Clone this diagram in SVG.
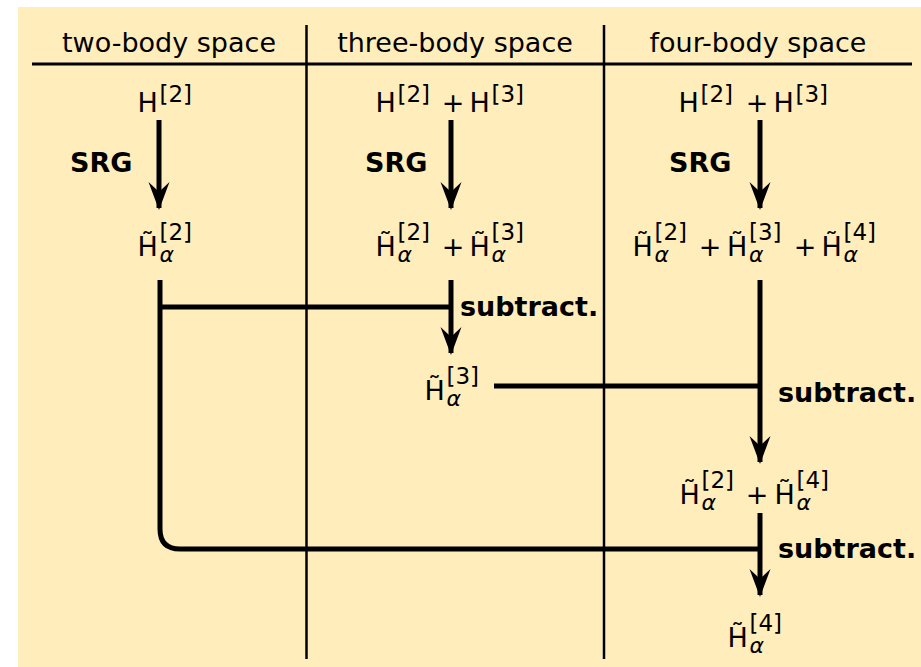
<svg xmlns="http://www.w3.org/2000/svg" width="921" height="667" viewBox="0 0 921 667">
<style>
.hd{font-family:"DejaVu Sans",sans-serif;font-size:27px;fill:#000;text-anchor:middle}
.m{font-family:"DejaVu Sans",sans-serif;font-size:27px;fill:#000}
.s{font-size:23px;font-style:normal}
.a{font-size:22px;font-style:italic}
.p{font-family:"DejaVu Sans",sans-serif;font-size:27px;fill:#000;text-anchor:middle}
.lb{font-family:"DejaVu Sans",sans-serif;font-size:27px;font-weight:bold;fill:#000}
.thin{stroke:#000;stroke-width:2.5;fill:none}
.thick{stroke:#000;stroke-width:5;fill:none}
</style>
<defs>
<marker id="ah" markerUnits="userSpaceOnUse" markerWidth="32" markerHeight="24" viewBox="-30 -12 32 24" refX="0" refY="0" orient="auto">
<path d="M2,0 L-26,-10.5 Q-20,-4 -16,0 Q-20,4 -26,10.5 Z" fill="#000"/>
</marker>
</defs>
<rect x="18" y="7" width="903" height="660" fill="#FFEDBB"/>
<g id="grid">
<line class="thick" x1="32" y1="64" x2="912" y2="64" style="stroke-width:3"/>
<line class="thin" x1="306.5" y1="25" x2="306.5" y2="659"/>
<line class="thin" x1="604" y1="25" x2="604" y2="659"/>
<text class="hd" x="169" y="52">two-body space</text>
<text class="hd" x="455" y="52">three-body space</text>
<text class="hd" x="758" y="52">four-body space</text>
</g>
<g id="connectors">
<line class="thick" x1="159" y1="120" x2="159" y2="208" marker-end="url(#ah)"/>
<line class="thick" x1="451" y1="120" x2="451" y2="208" marker-end="url(#ah)"/>
<line class="thick" x1="760" y1="120" x2="760" y2="208" marker-end="url(#ah)"/>
<path class="thick" d="M160,280 L160,529 Q160,549 180,549 L760,549"/>
<line class="thick" x1="160" y1="307" x2="451" y2="307"/>
<line class="thick" x1="451" y1="280" x2="451" y2="353" marker-end="url(#ah)"/>
<line class="thick" x1="494" y1="386" x2="760" y2="386"/>
<line class="thick" x1="760" y1="280" x2="760" y2="462" marker-end="url(#ah)"/>
<line class="thick" x1="760" y1="513" x2="760" y2="595" marker-end="url(#ah)"/>
<text class="lb" x="70" y="172">SRG</text>
<text class="lb" x="365" y="172">SRG</text>
<text class="lb" x="669" y="172">SRG</text>
<text class="lb" x="460" y="316">subtract.</text>
<text class="lb" x="778" y="402">subtract.</text>
<text class="lb" x="778" y="558">subtract.</text>
</g>
<g id="n-h2">
<text class="m" x="137.4" y="112">H<tspan class="s" x="159.5" y="102">[2]</tspan></text>
</g>
<g id="n-h2h3-3">
<text class="m" x="375.4" y="112">H<tspan class="s" x="397.5" y="102">[2]</tspan></text>
<text class="p" x="453" y="112">+</text>
<text class="m" x="469.4" y="112">H<tspan class="s" x="491.5" y="102">[3]</tspan></text>
</g>
<g id="n-h2h3-4">
<text class="m" x="678.4" y="112">H<tspan class="s" x="700.5" y="102">[2]</tspan></text>
<text class="p" x="757" y="112">+</text>
<text class="m" x="773.4" y="112">H<tspan class="s" x="795.5" y="102">[3]</tspan></text>
</g>
<g id="n-ht2">
<text class="m" x="137.4" y="256">H&#x303;<tspan class="s" x="159.5" y="240">[2]</tspan><tspan class="a" x="159.5" y="262">α</tspan></text>
</g>
<g id="n-ht2ht3">
<text class="m" x="375.4" y="256">H&#x303;<tspan class="s" x="397.5" y="240">[2]</tspan><tspan class="a" x="397.5" y="262">α</tspan></text>
<text class="p" x="453" y="256">+</text>
<text class="m" x="469.4" y="256">H&#x303;<tspan class="s" x="491.5" y="240">[3]</tspan><tspan class="a" x="491.5" y="262">α</tspan></text>
</g>
<g id="n-ht2ht3ht4">
<text class="m" x="632.4" y="256">H&#x303;<tspan class="s" x="654.5" y="240">[2]</tspan><tspan class="a" x="654.5" y="262">α</tspan></text>
<text class="p" x="710" y="256">+</text>
<text class="m" x="726.9" y="256">H&#x303;<tspan class="s" x="749" y="240">[3]</tspan><tspan class="a" x="749" y="262">α</tspan></text>
<text class="p" x="805" y="256">+</text>
<text class="m" x="821.4" y="256">H&#x303;<tspan class="s" x="843.5" y="240">[4]</tspan><tspan class="a" x="843.5" y="262">α</tspan></text>
</g>
<g id="n-ht3">
<text class="m" x="424.4" y="400">H&#x303;<tspan class="s" x="446.5" y="384">[3]</tspan><tspan class="a" x="446.5" y="406">α</tspan></text>
</g>
<g id="n-ht2ht4">
<text class="m" x="679.4" y="504">H&#x303;<tspan class="s" x="701.5" y="488">[2]</tspan><tspan class="a" x="701.5" y="510">α</tspan></text>
<text class="p" x="757" y="504">+</text>
<text class="m" x="774.4" y="504">H&#x303;<tspan class="s" x="796.5" y="488">[4]</tspan><tspan class="a" x="796.5" y="510">α</tspan></text>
</g>
<g id="n-ht4">
<text class="m" x="727.4" y="647">H&#x303;<tspan class="s" x="749.5" y="631">[4]</tspan><tspan class="a" x="749.5" y="653">α</tspan></text>
</g>
</svg>
